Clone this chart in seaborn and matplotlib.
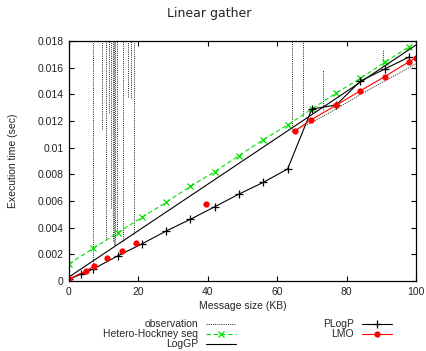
import numpy as np
import pandas as pd
import seaborn as sns
import matplotlib
matplotlib.use('Agg')
import matplotlib.pyplot as plt
from matplotlib.ticker import FuncFormatter
from matplotlib.lines import Line2D

# Hetero-Hockney seq (green, x markers)
hh_x = [0, 7, 14, 21, 28, 35, 42, 49, 56, 63, 70, 77, 84, 91, 98]
hh_y = [0.00128, 0.00245, 0.00362, 0.00477, 0.0059, 0.0071, 0.0082, 0.0094,
        0.0106, 0.0117, 0.0129, 0.0141, 0.0152, 0.0164, 0.01757]

# LogGP (plain black line)
lg_x = [0, 100]
lg_y = [0.0003, 0.0177]

# PLogP (black, + markers)
pl_x = [0, 3.5, 7, 14, 21, 28, 35, 42, 49, 56, 63, 70, 77, 84, 91, 98]
pl_y = [0.00013, 0.00052, 0.0009, 0.00188, 0.00278, 0.00375, 0.00463, 0.00557,
        0.00652, 0.0074, 0.0084, 0.0129, 0.0132, 0.0150, 0.0159, 0.0168]

# LMO (red dots), segment id marks connected runs
lmo_x = [0, 4.9, 7.2, 11.0, 15.3, 19.3, 39.5, 65.1, 69.7, 77, 84, 91, 98, 100]
lmo_y = [0.00015, 0.00075, 0.00113, 0.0017, 0.00227, 0.00287, 0.00575,
         0.01125, 0.01208, 0.01318, 0.01427, 0.01533, 0.01645, 0.01675]
lmo_seg = [0, 0, 0, 1, 2, 3, 4, 5, 5, 5, 5, 5, 5, 5]

# observation: spikes (x, low, high) and a base run
spike_x = [7.0, 9.4, 10.8, 11.6, 12.1, 12.6, 13.0, 13.4, 13.8, 15.5, 16.9, 18.0, 18.6,
           64.2, 67.5, 73.1, 90.6]
spike_lo = [0.0011, 0.0114, 0.0031, 0.0126, 0.0055, 0.0030, 0.0027, 0.0028, 0.0036,
            0.0030, 0.0138, 0.0137, 0.0035, 0.0113, 0.0124, 0.0128, 0.0163]
spike_hi = [0.03, 0.03, 0.03, 0.03, 0.03, 0.03, 0.03, 0.03, 0.03, 0.03, 0.03, 0.03, 0.03,
            0.03, 0.03, 0.0158, 0.01735]
base_x = [64.2, 70, 77, 84, 91, 98, 100]
base_y = [0.0112, 0.0119, 0.0129, 0.0140, 0.0150, 0.0160, 0.0163]

sns.set_theme(style='ticks')
plt.rcParams['font.family'] = ['Liberation Sans', 'DejaVu Sans']
plt.rcParams['xtick.direction'] = 'in'
plt.rcParams['ytick.direction'] = 'in'

fig = plt.figure(figsize=(4.26, 3.51), dpi=100)
ax = fig.add_axes([69 / 426, 1 - 281 / 351, (416 - 69) / 426, (281 - 41) / 351])

# observation
obs = []
for i, (x, lo, hi) in enumerate(zip(spike_x, spike_lo, spike_hi)):
    obs.append((i, x, lo))
    obs.append((i, x, hi))
for x, y in zip(base_x, base_y):
    obs.append((-1, x, y))
obs = pd.DataFrame(obs, columns=['unit', 'x', 'y'])
sns.lineplot(data=obs, x='x', y='y', units='unit', estimator=None, sort=False,
             color='#222222', lw=0.7, linestyle=(0, (1, 1.2)), ax=ax, legend=False)

sns.lineplot(x=hh_x, y=hh_y, color='#00e000', lw=0.8, ax=ax,
             linestyle=(0, (4, 2.5)), marker='x', markersize=4, mew=0.9, mec='#00e000')
sns.lineplot(x=lg_x, y=lg_y, color='black', lw=0.8, ax=ax)
sns.lineplot(x=pl_x, y=pl_y, color='black', lw=0.8, ax=ax,
             marker='+', markersize=5.5, mew=0.9, mec='black')
lmo = pd.DataFrame({'x': lmo_x, 'y': lmo_y, 'seg': lmo_seg})
sns.lineplot(data=lmo, x='x', y='y', units='seg', estimator=None, sort=False,
             color='#ff0000', lw=0.8, marker='o', markersize=4.5, mew=0,
             ax=ax, legend=False)

ax.set_xlim(0, 100)
ax.set_ylim(0, 0.018)
ax.set_xticks(np.arange(0, 101, 20))
ax.set_yticks(np.arange(0, 0.0181, 0.002))
ax.yaxis.set_major_formatter(FuncFormatter(lambda v, p: '%g' % round(v, 4)))
ax.tick_params(axis='both', which='major', labelsize=7.5, length=3.5, width=0.8,
               top=True, right=True, pad=4, color='black', labelcolor='#222222')
for s in ax.spines.values():
    s.set_linewidth(0.9)
    s.set_color('black')
ax.set_xlabel('Message size (KB)', fontsize=7.5, labelpad=3, color='#222222')
ax.set_ylabel('Execution time (sec)', fontsize=7.5, labelpad=14, color='#222222')

fig.text(0.49, 1 - 14 / 351, 'Linear gather', ha='center', va='center',
         fontsize=9, family='DejaVu Sans', color='#222222')

# legends
h_obs = Line2D([], [], color='#222222', lw=0.7, linestyle=(0, (1, 1.2)))
h_hh = Line2D([], [], color='#00e000', lw=0.8, linestyle=(0, (4, 2.5)),
              marker='x', markersize=4, mew=0.9)
h_lg = Line2D([], [], color='black', lw=0.8)
h_pl = Line2D([], [], color='black', lw=0.8, marker='+', markersize=5.5, mew=0.9)
h_lmo = Line2D([], [], color='#ff0000', lw=0.8, marker='o', markersize=4.5, mew=0)

common = dict(frameon=False, markerfirst=False, fontsize=7.5, handlelength=2.9,
              handletextpad=0.75, labelspacing=0.0, borderpad=0, borderaxespad=0,
              loc='upper right', numpoints=1, handleheight=0.5)
leg1 = fig.legend([h_obs, h_hh, h_lg], ['observation', 'Hetero-Hockney seq', 'LogGP'],
                  bbox_to_anchor=(236 / 426, 1 - 319 / 351), **common)
leg2 = fig.legend([h_pl, h_lmo], ['PLogP', 'LMO'],
                  bbox_to_anchor=(392 / 426, 1 - 319 / 351), **common)

fig.savefig('out.png', dpi=100)
